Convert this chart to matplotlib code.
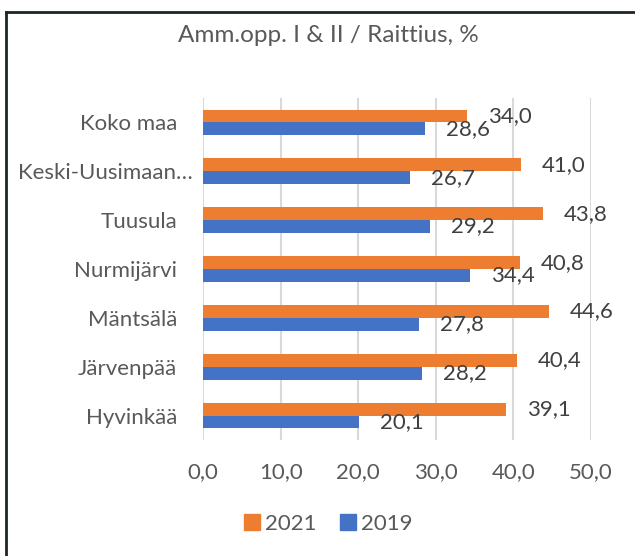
import numpy as np
import matplotlib
matplotlib.use('Agg')
from matplotlib import pyplot as plt
from matplotlib import transforms
from matplotlib.lines import Line2D

categories = ['Koko maa', 'Keski-Uusimaan…', 'Tuusula', 'Nurmijärvi',
              'Mäntsälä', 'Järvenpää', 'Hyvinkää']
values_2021 = [34.0, 41.0, 43.8, 40.8, 44.6, 40.4, 39.1]
values_2019 = [28.6, 26.7, 29.2, 34.4, 27.8, 28.2, 20.1]
x_ticks = [0, 10, 20, 30, 40, 50]

plt.rcParams['font.family'] = ['Lato', 'DejaVu Sans']

fig = plt.figure(figsize=(6.35, 5.56), dpi=100)
ax = fig.add_axes([203 / 635, 1 - 440 / 556, 388 / 635, 342 / 556])

# one px = 0.72 pt at 100 dpi
px = 0.72
fs = 16
h = 1 / 3.82
y = np.arange(len(categories))

b21 = ax.barh(y - h / 2, values_2021, height=h, color='#ED7D31', label='2021')
b19 = ax.barh(y + h / 2, values_2019, height=h, color='#4472C4', label='2019')

fmt = lambda v: f'{v:.1f}'.replace('.', ',')
for bars, vals in [(b21, values_2021), (b19, values_2019)]:
    texts = ax.bar_label(bars, labels=[fmt(v) for v in vals], padding=21 * px,
                         fontsize=fs, color='#404040')
    for t in texts:
        t.set_va('center')
        t.set_transform(t.get_transform() + transforms.ScaledTranslation(0, -2 / 100, fig.dpi_scale_trans))

ax.set_xlim(0, 50)
ax.set_ylim(len(categories) - 0.5, -0.5)
ax.set_xticks(x_ticks)
ax.set_xticklabels([fmt(v) for v in x_ticks])
ax.set_yticks(y)
ax.set_yticklabels(categories)
ax.tick_params(axis='both', length=0, labelsize=fs, labelcolor='#595959')
ax.tick_params(axis='y', pad=26 * px)
ax.tick_params(axis='x', pad=22 * px)
ax.grid(axis='x', color='#D9D9D9', linewidth=1.5)
ax.set_axisbelow(True)
for s in ax.spines.values():
    s.set_visible(False)

# truncated label sits a bit further right in the original
for lab in ax.get_yticklabels():
    if lab.get_text().endswith('…'):
        lab.set_transform(lab.get_transform() + transforms.ScaledTranslation(16 / 100, 0, fig.dpi_scale_trans))

fig.text(328 / 635, 1 - 36 / 556, 'Amm.opp. I & II / Raittius, %', ha='center', va='center',
         fontsize=17.5, color='#595959')

handles = [Line2D([], [], marker='s', linestyle='none', markersize=11, color='#ED7D31'),
           Line2D([], [], marker='s', linestyle='none', markersize=11, color='#4472C4')]
fig.legend(handles, ['2021', '2019'], loc='center', bbox_to_anchor=(328 / 635, 1 - 524 / 556),
           ncol=2, frameon=False, fontsize=fs, labelcolor='#595959', handletextpad=0.2,
           columnspacing=1.0, handlelength=0.8)

# chart border (only left and top visible)
bx, by = 6 / 635, 1 - 12 / 556
fig.add_artist(Line2D([bx, bx], [0, by], color='#1c2626', linewidth=2))
fig.add_artist(Line2D([bx, 1], [by, by], color='#1c2626', linewidth=2))

fig.savefig('out.png', dpi=100)
